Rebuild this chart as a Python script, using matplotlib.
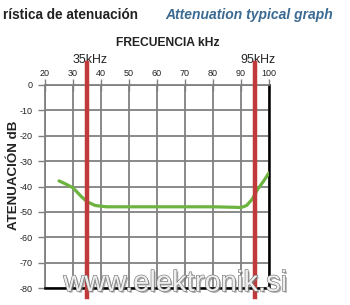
import matplotlib
matplotlib.use("Agg")
import matplotlib.pyplot as plt
import matplotlib.patheffects as pe

plt.rcParams["font.family"] = ["Liberation Sans", "DejaVu Sans"]
plt.rcParams["axes.unicode_minus"] = False

# attenuation curve
freq_khz = [25, 27, 30, 33, 35, 38, 42, 50, 60, 70, 80, 88, 90, 92, 94, 96, 98, 100]
atten_db = [-37.8, -38.8, -40.5, -44, -46, -47.5, -48, -48, -48, -48, -48, -48.2, -48.3,
            -47.5, -45, -41, -38, -34.6]
marker_khz = [35, 95]
marker_labels = ["35kHz", "95kHz"]
x_ticks = [20, 30, 40, 50, 60, 70, 80, 90, 100]
y_ticks = [0, -10, -20, -30, -40, -50, -60, -70, -80]

W, H = 350, 305
fig = plt.figure(figsize=(3.5, 3.05), dpi=100)
ax = fig.add_axes([45 / W, 1 - 288 / H, 224 / W, 203 / H])

ax.set_xlim(20, 100)
ax.set_ylim(-80, 0)
ax.set_xticks(x_ticks)
ax.set_yticks(y_ticks)
ax.grid(True, color="#808080", lw=1.3)
ax.set_axisbelow(True)

ax.xaxis.tick_top()
ax.tick_params(axis="x", direction="inout", length=8, width=1, color="#808080",
               labelsize=6.5, pad=1, labelcolor="#222222")
ax.tick_params(axis="y", direction="out", length=5, width=1, color="#808080",
               labelsize=6.5, pad=4, labelcolor="#222222")

for side in ["left", "top"]:
    ax.spines[side].set_color("#808080")
    ax.spines[side].set_linewidth(1.3)
for side in ["bottom", "right"]:
    ax.spines[side].set_color("black")
    ax.spines[side].set_linewidth(1.8)

ax.plot(freq_khz, atten_db, color="#6cb33f", lw=2.3, solid_capstyle="round", zorder=3)

for k, lab in zip(marker_khz, marker_labels):
    ax.axvline(k, ymin=-0.045, ymax=1.11, color="#c0393b", lw=3.2, clip_on=False, zorder=4)
    ax.text(k + 1.2, 9.9, lab, ha="center", va="center", fontsize=8.9, color="#222222")

fig.text(168 / W, 1 - 43 / H, "FRECUENCIA kHz", ha="center", va="center",
         fontsize=8.7, fontweight="bold", color="#222222")
fig.text(14 / W, 1 - 175 / H, "ATENUACIÓN dB", ha="center", va="center", rotation=90,
         fontsize=9.6, fontweight="bold", color="#222222")

fig.text(138 / W, 1 - 15 / H, "rística de atenuación", ha="right", va="center",
         fontsize=9.8, fontweight="bold", color="#222222")
fig.text(165 / W, 1 - 15 / H, "Attenuation typical graph", ha="left", va="center",
         fontsize=10, fontweight="bold", style="italic", color="#3b6a92")

# watermark
fig.text(175 / W, 1 - 283 / H, "www.elektronik.si", ha="center", va="center",
         fontsize=21, color="#eeeeee", zorder=10,
         path_effects=[pe.withSimplePatchShadow(offset=(1.2, -1.2), shadow_rgbFace="#777777",
                                                alpha=0.6),
                       pe.withStroke(linewidth=0.9, foreground="#777777")])

fig.savefig("out.png", dpi=100)
